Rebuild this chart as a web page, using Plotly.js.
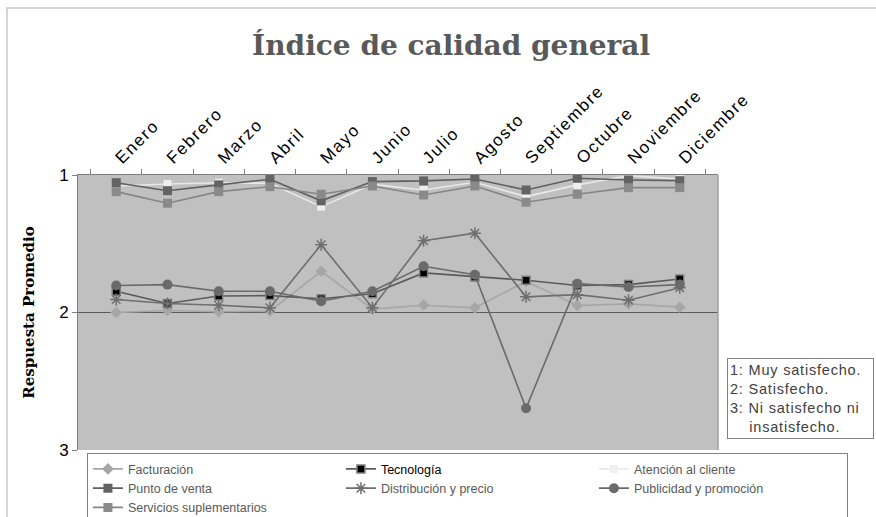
<!DOCTYPE html>
<html>
<head>
<meta charset="utf-8">
<script src="https://cdn.plot.ly/plotly-3.0.1.min.js"></script>
<style>
html,body{margin:0;padding:0;background:#fff;}
#chart{width:876px;height:517px;}
#chart .xtick text{letter-spacing:1.6px;}
#chart .annotation-text{letter-spacing:0.8px;}
</style>
</head>
<body>
<div id="chart"></div>
<script>
const months = ["Enero","Febrero","Marzo","Abril","Mayo","Junio","Julio","Agosto","Septiembre","Octubre","Noviembre","Diciembre"];
const facturacion = [2.00,1.986,1.995,1.99,1.70,1.975,1.947,1.966,1.773,1.949,1.937,1.961];
const tecnologia = [1.845,1.935,1.88,1.877,1.90,1.864,1.712,1.741,1.766,1.804,1.797,1.756];
const atencion = [1.08,1.065,1.056,1.06,1.23,1.068,1.109,1.053,1.157,1.072,1.005,1.03];
const puntoVenta = [1.056,1.114,1.072,1.031,1.188,1.048,1.043,1.029,1.109,1.024,1.036,1.041];
const distribucion = [1.906,1.935,1.947,1.966,1.507,1.966,1.478,1.423,1.886,1.87,1.911,1.82];
const publicidad = [1.804,1.797,1.845,1.845,1.918,1.845,1.664,1.725,2.696,1.79,1.814,1.797];
const servicios = [1.121,1.205,1.121,1.085,1.14,1.08,1.145,1.08,1.198,1.14,1.092,1.092];
const seriesNames = ["Facturación","<span style=\"color:#000\">Tecnología</span>","Atención al cliente","Punto de venta","Distribución y precio","Publicidad y promoción","Servicios suplementarios"];

function tr(name, y, lineColor, symbol, mColor, mSize, mLine, mLineW) {
  return {
    type: 'scatter', mode: 'lines+markers', x: months, y: y, name: name,
    line: {color: lineColor, width: 1.6},
    marker: {symbol: symbol, color: mColor, size: mSize, line: {color: mLine || mColor, width: mLineW || 0}}
  };
}
const data = [
  tr(seriesNames[0], facturacion, '#a6a6a6', 'diamond', '#a6a6a6', 9),
  tr(seriesNames[1], tecnologia, '#5a5a5a', 'square', '#000000', 8, '#808080', 1.5),
  tr(seriesNames[2], atencion, '#e8e8e8', 'square', '#efefef', 8),
  tr(seriesNames[3], puntoVenta, '#5f5f5f', 'square', '#636363', 9),
  tr(seriesNames[4], distribucion, '#6e6e6e', 'asterisk-open', '#6e6e6e', 10, '#6e6e6e', 1.5),
  tr(seriesNames[5], publicidad, '#6a6a6a', 'circle', '#6a6a6a', 10),
  tr(seriesNames[6], servicios, '#858585', 'square', '#8a8a8a', 9)
];

const layout = {
  width: 876, height: 517,
  paper_bgcolor: '#ffffff', plot_bgcolor: '#c0c0c0',
  margin: {l: 78, r: 158, t: 175, b: 67, autoexpand: false},
  showlegend: true,
  title: {text: '<b>Índice de calidad general</b>', font: {family: 'DejaVu Serif, serif', size: 28, color: '#595959'},
          xref: 'container', x: 0.515, xanchor: 'center', yref: 'container', y: 0.913, yanchor: 'middle'},
  xaxis: {
    type: 'category', side: 'top', tickangle: -45, tickson: 'boundaries',
    ticks: 'outside', ticklen: 5, tickcolor: '#808080',
    showline: true, linecolor: '#808080', linewidth: 1, showgrid: false, zeroline: false,
    tickfont: {family: 'Liberation Sans, Arial, sans-serif', size: 17, color: '#000'},
    fixedrange: true
  },
  yaxis: {
    range: [3, 1], tickvals: [1, 2, 3], ticktext: ['1', '2', '3'],
    ticks: 'outside', ticklen: 5, tickcolor: '#808080',
    showline: true, linecolor: '#808080', linewidth: 1,
    showgrid: true, gridcolor: '#5a5a5a', gridwidth: 1.2, zeroline: false,
    tickfont: {family: 'Liberation Sans, Arial, sans-serif', size: 17, color: '#000'},
    title: {text: '<b>Respuesta Promedio</b>', font: {family: 'DejaVu Serif, serif', size: 15, color: '#000'}, standoff: 20},
    fixedrange: true
  },
  legend: {
    orientation: 'h', xref: 'paper', yref: 'paper', x: 1.203, xanchor: 'right', y: -0.012, yanchor: 'top',
    entrywidth: 208, entrywidthmode: 'pixels', traceorder: 'normal',
    bgcolor: '#ffffff', bordercolor: '#808080', borderwidth: 1,
    font: {family: 'Liberation Sans, Arial, sans-serif', size: 12.5, color: '#595959'},
    itemclick: false, itemdoubleclick: false
  },
  shapes: [
    {type: 'rect', xref: 'paper', yref: 'paper', x0: -0.111, x1: 1.4, y0: -0.5, y1: 1.607,
     line: {color: '#c8c8c8', width: 1.5}, fillcolor: 'rgba(0,0,0,0)', layer: 'below'},
    {type: 'line', xref: 'paper', yref: 'paper', x0: 1, x1: 1, y0: 0, y1: 1, line: {color: '#a0a0a0', width: 1.5}}
  ],
  annotations: [{
    xref: 'paper', yref: 'paper', x: 1.014, xanchor: 'left', y: 0.3345, yanchor: 'top',
    text: '1: Muy satisfecho.<br>2: Satisfecho.<br>3: Ni satisfecho ni<br>\u00a0\u00a0\u00a0\u00a0insatisfecho.',
    width: 141, height: 75, align: 'left', valign: 'middle',
    showarrow: false, bordercolor: '#808080', borderwidth: 1, borderpad: 2, bgcolor: '#ffffff',
    font: {family: 'Liberation Sans, Arial, sans-serif', size: 14.5, color: '#404040'}
  }]
};
Plotly.newPlot('chart', data, layout, {displayModeBar: false, staticPlot: true});
</script>
</body>
</html>
